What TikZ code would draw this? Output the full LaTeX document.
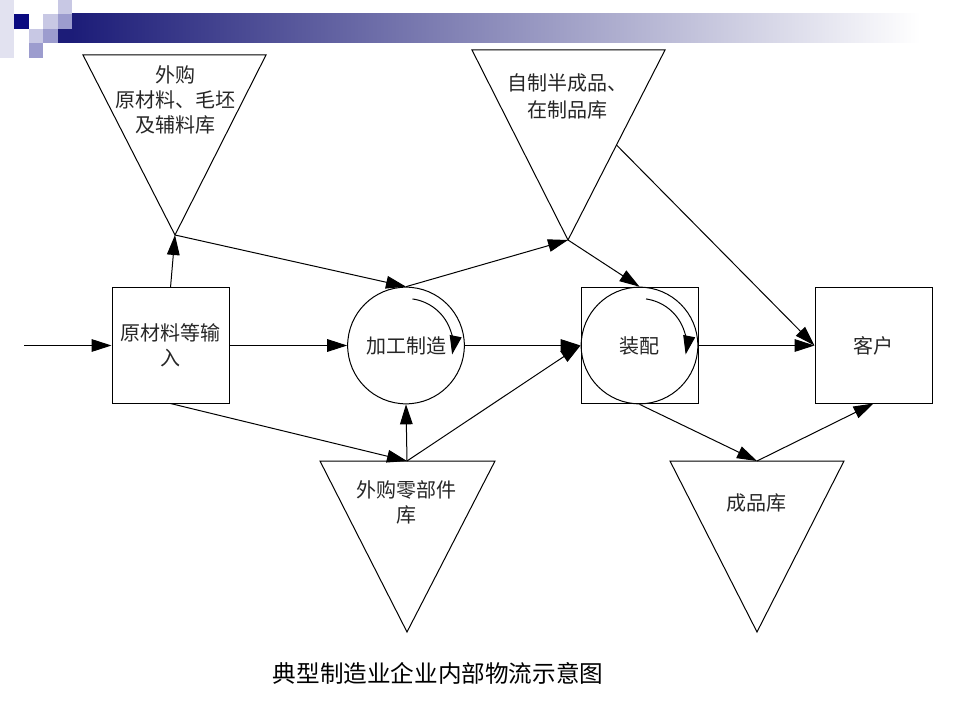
\documentclass[tikz,border=0pt]{standalone}
\usepackage{fontspec}
\usepackage{xcolor}
\usepackage{tikz}
\newfontfamily\cjk{Noto Sans CJK SC}
\usetikzlibrary{positioning,calc,arrows.meta}
\definecolor{navy}{RGB}{28,28,120}
\definecolor{pixdark}{RGB}{10,10,128}
\definecolor{pixmid}{RGB}{156,156,206}
\definecolor{pixlight}{RGB}{200,200,228}
\definecolor{pixpale}{RGB}{226,226,240}
\definecolor{bandmid}{RGB}{176,176,200}

\begin{document}
\begin{tikzpicture}[x=0.75pt,y=-0.75pt,line width=0.75pt,
    every node/.style={font=\cjk\fontsize{15}{18.75}\selectfont, text=black!85, align=center},
    flow/.style={-{Triangle[length=15pt,width=9.5pt]}},
    turn/.style={-{Triangle[length=14pt,width=9pt]}},
    box/.style={draw, rectangle, minimum width=87.75pt, minimum height=86.25pt, inner sep=0pt},
    proc/.style={draw, circle, minimum size=87.5pt, inner sep=0pt}]
    \useasboundingbox (0,0) rectangle (960,720);

    % Header band
    \fill[pixpale] (0,0) rectangle (14,58);
    \shade[left color=navy, middle color=bandmid, right color=white] (72,14) rectangle (920,43);
    \fill[navy] (58,29) rectangle (72,43);
    \fill[pixdark] (14,14) rectangle (29,29);
    \fill[pixlight] (58,0) rectangle (72,14);
    \fill[pixlight] (43,14) rectangle (58,29);
    \fill[pixmid] (58,14) rectangle (72,29);
    \fill[pixlight] (29,29) rectangle (43,43);
    \fill[pixmid] (43,29) rectangle (58,43);
    \fill[pixmid] (29,43) rectangle (43,58);

    % Input, processing, assembly, customer
    \node[box] (input) at (170.5,345.5) {原材料等输\\入};
    \node[proc] (make) at (406,345.5) {加工制造};
    \node[box] (asm) at (639.5,345.5) {};
    \node[proc] (asmc) at (639.5,345.5) {装配};
    \node[box] (cust) at (873.5,345.5) {客户};

    % Stores
    \coordinate (rawL) at (83,55); \coordinate (rawR) at (266,55); \coordinate (raw) at (175,235);
    \draw (rawL) -- (rawR) -- (raw) -- cycle;
    \node (rawtext) at (175,100) {外购\\原材料、毛坯\\及辅料库};

    \coordinate (semiL) at (472,50); \coordinate (semiR) at (665,50); \coordinate (semi) at (568,240);
    \draw (semiL) -- (semiR) -- (semi) -- cycle;
    \node[font=\cjk\fontsize{15}{20.25}\selectfont] (semitext) at (567,96.5) {自制半成品、\\在制品库};

    \coordinate (partsL) at (320,461); \coordinate (partsR) at (495,461);
    \coordinate (parts) at (407,461); \coordinate (partsA) at (407,632);
    \draw (partsL) -- (partsR) -- (partsA) -- cycle;
    \node (partstext) at (406,502.5) {外购零部件\\库};

    \coordinate (goodsL) at (670,461); \coordinate (goodsR) at (844,461);
    \coordinate (goods) at (757,461); \coordinate (goodsA) at (757,632);
    \draw (goodsL) -- (goodsR) -- (goodsA) -- cycle;
    \node (goodstext) at (756,503) {成品库};

    % Flows
    \coordinate (in) at (24,345.5);
    \draw[flow] (in) -- (input.west);
    \draw[flow] (input.north) -- (raw);
    \draw[flow] (raw) -- (make.north);
    \draw[flow] (make.north) -- (semi);
    \draw[flow] (semi) -- (asmc.north);
    \draw[flow] ($(semiR)!0.5!(semi)$) -- (cust.west);
    \draw[flow] (input) -- (make);
    \draw[flow] (make) -- (asm);
    \draw[flow] (asm) -- (cust);
    \draw[flow] (input.south) -- (parts);
    \draw[flow] (parts) -- (make.south);
    \draw[flow] (parts) -- (asm.west);
    \draw[flow] (asmc.south) -- (goods);
    \draw[flow] (goods) -- (cust.south);

    % Turning arrows
    \draw[turn] (make.center) ++(-82:47) arc[start angle=-82, end angle=11, radius=47];
    \draw[turn] (asmc.center) ++(-82:47) arc[start angle=-82, end angle=11, radius=47];

    \node[font=\cjk\fontsize{17.7}{20}\selectfont, text=black] (title) at (438,673) {典型制造业企业内部物流示意图};
\end{tikzpicture}
\end{document}
